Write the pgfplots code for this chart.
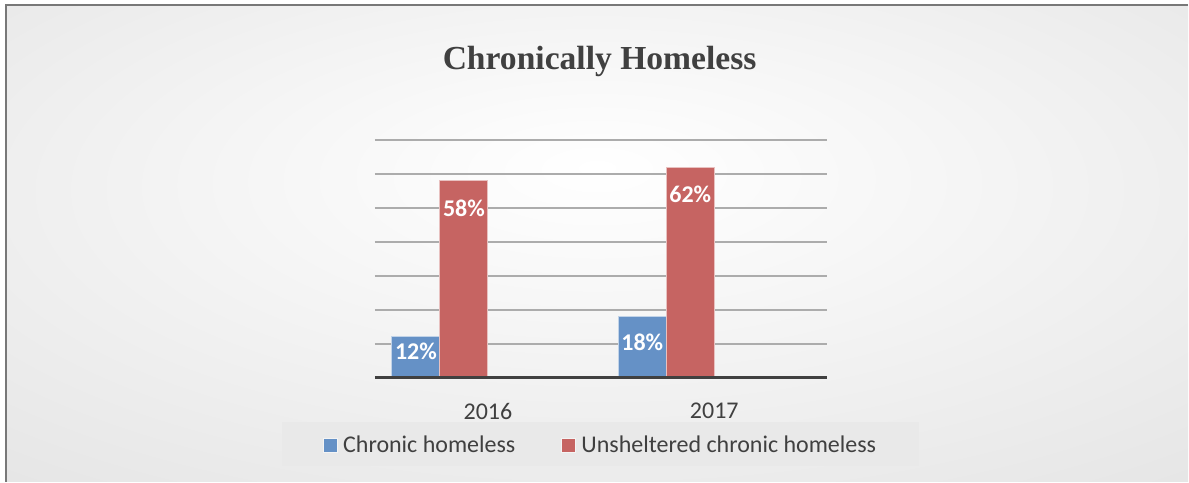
\documentclass[border=0pt]{standalone}
\usepackage{pgfplots}
\pgfplotsset{compat=1.18}
\usepackage{pgfplotstable}
\usepackage{fontspec}
\setmainfont{Carlito}
\newfontfamily\titlefont{Liberation Serif}
\definecolor{bblue}{RGB}{101,145,198}
\definecolor{bred}{RGB}{198,100,98}
\definecolor{txt}{RGB}{64,64,64}
\definecolor{gridc}{RGB}{172,172,172}
\definecolor{axc}{RGB}{64,64,64}
\definecolor{legbg}{RGB}{233,233,233}
\definecolor{bgmid}{RGB}{222,222,222}
\definecolor{bgout}{RGB}{196,196,196}
\definecolor{bordc}{RGB}{120,120,120}
\pgfdeclareradialshading{bgshade}{\pgfpoint{0bp}{8bp}}{color(0bp)=(white); color(12bp)=(white!97!black); color(50bp)=(bgmid); color(75bp)=(bgout)}

\pgfplotstableread{
x y sh
0 12 -7
1 18 -13
}\chronic
\pgfplotstableread{
x y sh
0 58 -14
1 62 -13.5
}\unshelt

\begin{document}
\begin{tikzpicture}
\begin{scope}[x=0.5pt,y=-0.5pt]
\fill[white] (0,0) rectangle (1189,482);
\shade[shading=bgshade] (6,5) rectangle (1189,482);
\draw[bordc, line width=0.8pt] (6,482) -- (6,5) -- (1189,5);
\fill[legbg] (282,422) rectangle (920,466);
\node[font=\titlefont\bfseries\fontsize{16.8}{20}\selectfont, text=txt] at (600,62) {Chronically Homeless};
\end{scope}
\begin{axis}[
  at={(187.5pt,-189pt)}, anchor=south west,
  scale only axis, width=226.5pt, height=119pt,
  ybar, bar width=24pt,
  xmin=-0.5, xmax=1.5, ymin=0, ymax=70,
  xtick={0,1}, xticklabels={2016,2017},
  ytick={10,20,...,70}, yticklabels={},
  ymajorgrids, major grid style={gridc, line width=0.8pt},
  tick style={draw=none}, axis line style={draw=none},
  xticklabel style={font=\fontsize{12}{14}\selectfont, text=txt, yshift=-5pt},
  legend style={at={(0.4989,-0.2836)}, anchor=center, draw=none, fill=none,
    font=\fontsize{12}{14}\selectfont, text=txt,
    nodes={inner xsep=1.25pt},
    /tikz/every even column/.append style={column sep=21.5pt}},
  legend columns=2,
  nodes near coords={\pgfmathprintnumber[assume math mode=true]{\pgfplotspointmeta}\%},
  visualization depends on={\thisrow{sh}\as\lblshift},
  nodes near coords style={anchor=center, yshift=\lblshift pt,
    font=\bfseries\fontsize{12}{14}\selectfont, text=white},
  mylegend/.style={legend image code/.code={\filldraw[##1, draw=white!50!legbg, line width=0.4pt] (0pt,-3.5pt) rectangle (7pt,3.5pt); \path (8.6pt,0pt);}},
  after end axis/.code={\draw[axc, line width=1.6pt] (rel axis cs:0,0) -- (rel axis cs:1,0);},
]
\addplot[fill=bblue, draw=white!60!bblue, line width=0.5pt, bar shift=-36pt, mylegend]
  table[x=x,y=y] {\chronic};
\addlegendentry{Chronic homeless}
\addplot[fill=bred, draw=white!60!bred, line width=0.5pt, bar shift=-12pt, mylegend]
  table[x=x,y=y] {\unshelt};
\addlegendentry{Unsheltered chronic homeless}
\end{axis}
\end{tikzpicture}
\end{document}
